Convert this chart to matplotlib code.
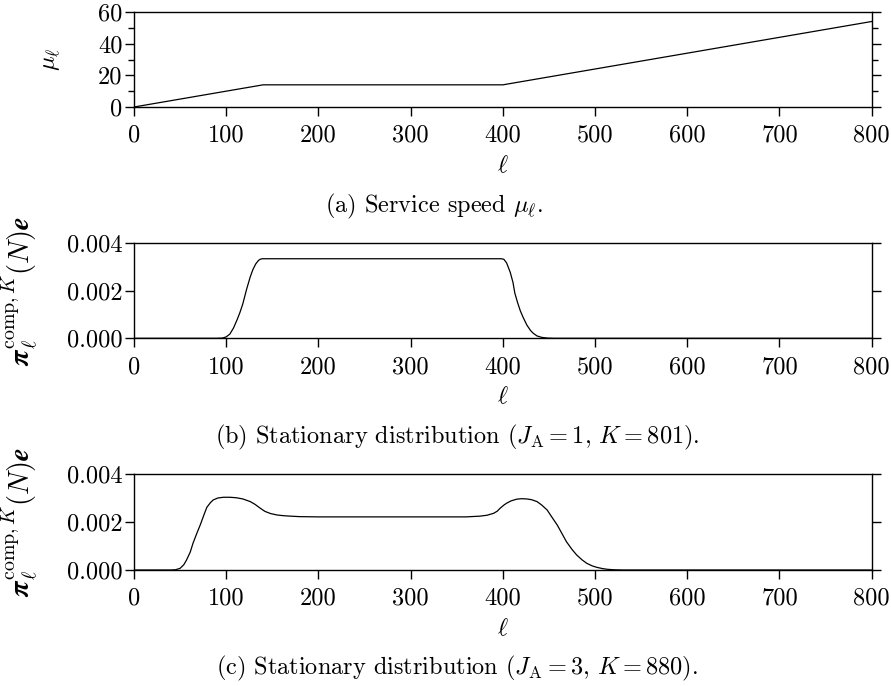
import matplotlib
matplotlib.use("Agg")
import matplotlib.pyplot as plt
from matplotlib.ticker import FixedLocator, MultipleLocator

plt.rcParams['font.family'] = 'serif'
plt.rcParams['font.serif'] = ['cmr10', 'DejaVu Serif']
plt.rcParams['mathtext.fontset'] = 'cm'
plt.rcParams['axes.formatter.use_mathtext'] = True

# ---- data ----
# (a) service speed
ell_a = [0, 140, 400, 800]
mu_a = [0, 14, 14, 54]

# (b) stationary distribution J_A=1, K=801
ell_b = [0, 90, 96, 100, 104, 108, 112, 115, 118, 122, 126, 129, 132, 135, 137, 139,
         200, 300, 398, 401, 404, 408, 411, 413, 416, 419, 422, 426, 430, 433, 437,
         442, 448, 455, 465, 800]
pi_b = [0, 0, 0.00001, 0.00006, 0.00018, 0.00044, 0.00080, 0.00110, 0.00145, 0.00205,
        0.00258, 0.00290, 0.00313, 0.00328, 0.00333, 0.00335,
        0.00335, 0.00335, 0.00335, 0.00333, 0.00318, 0.00278, 0.00235, 0.00190, 0.00150,
        0.00115, 0.00088, 0.00056, 0.00033, 0.00021, 0.00010,
        0.00004, 0.00001, 0, 0, 0]

# (c) stationary distribution J_A=3, K=880
ell_c = [0, 40, 45, 50, 54, 57, 61, 64, 68, 72, 76, 79, 83, 86, 91, 97, 104, 111, 118,
         126, 131, 137, 142, 148, 155, 162, 170, 180, 200, 300, 360, 375, 383, 390, 394,
         397, 401, 404, 409, 415, 420, 426, 431, 437, 442, 448, 453, 459, 464, 469, 475,
         480, 486, 491, 497, 502, 508, 513, 520, 530, 800]
pi_c = [0, 0, 0.00001, 0.00007, 0.00022, 0.00042, 0.00075, 0.00112, 0.00152, 0.00190,
        0.00232, 0.00262, 0.00282, 0.00293, 0.00301, 0.00304, 0.00304, 0.00302, 0.00297,
        0.00286, 0.00275, 0.00258, 0.00245, 0.00236, 0.00230, 0.00227, 0.00225, 0.00223,
        0.00222, 0.00222, 0.00222, 0.00225, 0.00229, 0.00237, 0.00246, 0.00258, 0.00271,
        0.00279, 0.00289, 0.00296, 0.00298, 0.00297, 0.00294, 0.00286, 0.00272, 0.00251,
        0.00222, 0.00188, 0.00153, 0.00118, 0.00086, 0.00063, 0.00042, 0.00028, 0.00017,
        0.00011, 0.00006, 0.00003, 0.00001, 0, 0]

xticks = [0, 100, 200, 300, 400, 500, 600, 700, 800]
yticks_a = [0, 20, 40, 60]
yticks_pi = [0.000, 0.002, 0.004]
yticklabels_pi = ['0.000', '0.002', '0.004']

captions = [r'(a) Service speed $\mu_\ell$.',
            r'(b) Stationary distribution ($J_\mathrm{A}=1$, $K=801$).',
            r'(c) Stationary distribution ($J_\mathrm{A}=3$, $K=880$).']

FS = 17.5
FS_PI = 20.5
W, H = 891, 686
fig = plt.figure(figsize=(W / 100, H / 100), dpi=100)

def make_ax(top_px, bot_px):
    left, right = 134, 871.7
    return fig.add_axes([left / W, 1 - bot_px / H, (right - left) / W, (bot_px - top_px) / H])

def style(ax, hpx):
    for s in ax.spines.values():
        s.set_linewidth(1.0)
    ax.tick_params(which='major', direction='out', length=6.8, width=1.0,
                   labelsize=FS, left=True, right=True, top=False, bottom=True,
                   labelright=False)
    ax.tick_params(axis='x', pad=6)
    ax.tick_params(axis='y', pad=1.5)
    ax.set_xlim(0, 800)
    ax.xaxis.set_major_locator(FixedLocator(xticks))
    ax.set_xticklabels([str(t) for t in xticks])
    ax.set_xlabel(r'$\ell$', fontsize=FS)
    ax.xaxis.set_label_coords(0.5, -48 / hpx)

ax1 = make_ax(12, 107)
ax1.plot(ell_a, mu_a, color='black', lw=0.9)
style(ax1, 95)
ax1.set_ylim(0, 60)
ax1.yaxis.set_major_locator(FixedLocator(yticks_a))
ax1.set_yticklabels([str(t) for t in yticks_a])
ax1.yaxis.set_minor_locator(MultipleLocator(10))
ax1.tick_params(which='minor', direction='out', length=4, width=1.0, left=True, right=True)
ax1.set_ylabel(r'$\mu_\ell$', fontsize=FS)
ax1.yaxis.set_label_coords((62 - 134) / 737.7, 0.5)

ylab = r'$\boldsymbol{\pi}_\ell^{\mathrm{comp},K}(N)\boldsymbol{e}$'

ax2 = make_ax(243.3, 338.3)
ax2.plot(ell_b, pi_b, color='black', lw=0.9)
style(ax2, 95)
ax2.set_ylim(0, 0.004)
ax2.yaxis.set_major_locator(FixedLocator(yticks_pi))
ax2.set_yticklabels(yticklabels_pi)
ax2.set_ylabel(ylab, fontsize=FS_PI)
ax2.yaxis.set_label_coords((40 - 134) / 737.7, 0.5)

ax3 = make_ax(474.3, 570)
ax3.plot(ell_c, pi_c, color='black', lw=0.9)
style(ax3, 95.7)
ax3.set_ylim(0, 0.004)
ax3.yaxis.set_major_locator(FixedLocator(yticks_pi))
ax3.set_yticklabels(yticklabels_pi)
ax3.set_ylabel(ylab, fontsize=FS_PI)
ax3.yaxis.set_label_coords((40 - 134) / 737.7, 0.5)

fig.text(434 / W, 1 - 206 / H, captions[0], ha='center', va='center', fontsize=FS)
fig.text(457 / W, 1 - 437 / H, captions[1], ha='center', va='center', fontsize=FS)
fig.text(457 / W, 1 - 668 / H, captions[2], ha='center', va='center', fontsize=FS)

fig.savefig('out.png', dpi=100)
